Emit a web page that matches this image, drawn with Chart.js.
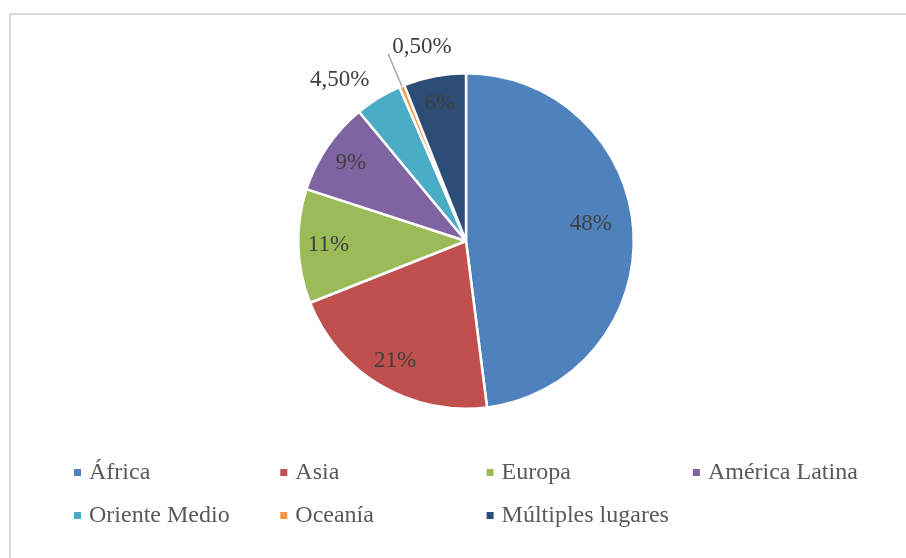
<!DOCTYPE html>
<html>
<head>
<meta charset="utf-8">
<script src="https://cdn.jsdelivr.net/npm/chart.js@4"></script>
<style>
  html, body { margin: 0; padding: 0; background: #fff; }
  #wrap { position: relative; width: 906px; height: 558px; }
</style>
</head>
<body>
<div id="wrap"><canvas id="regionPie" width="906" height="558"></canvas></div>
<script>
const regions = ['África', 'Asia', 'Europa', 'América Latina', 'Oriente Medio', 'Oceanía', 'Múltiples lugares'];
const shares = [48, 21, 11, 9, 4.5, 0.5, 6];
const shareLabels = ['48%', '21%', '11%', '9%', '4,50%', '0,50%', '6%'];
const colors = ['#4F81BD', '#C0504D', '#9BBB59', '#8064A2', '#4BACC6', '#F79646', '#2C4D75'];

// gray frame of the original chart box
const framePlugin = {
  id: 'frame',
  beforeDraw(chart) {
    const ctx = chart.ctx;
    ctx.save();
    ctx.fillStyle = '#d9d9d9';
    ctx.fillRect(9, 13, chart.width, 2);
    ctx.fillRect(9, 13, 2, chart.height);
    ctx.restore();
  }
};

// percentage labels, inside most slices, outside for the small ones
const sliceLabelPlugin = {
  id: 'sliceLabels',
  afterDatasetsDraw(chart, args, opts) {
    const ctx = chart.ctx;
    const arcs = chart.getDatasetMeta(0).data;
    ctx.save();
    ctx.font = opts.font;
    ctx.textAlign = 'center';
    ctx.textBaseline = 'middle';
    arcs.forEach((arc, i) => {
      const p = arc.getProps(['x', 'y', 'startAngle', 'endAngle', 'outerRadius'], true);
      const mid = (p.startAngle + p.endAngle) / 2;
      const rf = opts.radius[i];
      const a = mid + (opts.angleShift[i] || 0) * Math.PI / 180;
      const lx = p.x + Math.cos(a) * p.outerRadius * rf;
      const ly = p.y + Math.sin(a) * p.outerRadius * rf;
      if (opts.leader[i]) {
        const w = ctx.measureText(shareLabels[i]).width;
        ctx.strokeStyle = '#a6a6a6';
        ctx.lineWidth = 1.5;
        ctx.beginPath();
        ctx.moveTo(p.x + Math.cos(mid) * p.outerRadius, p.y + Math.sin(mid) * p.outerRadius);
        ctx.lineTo(lx - w / 2 - 4, ly + 7);
        ctx.stroke();
      }
      ctx.fillStyle = '#404040';
      ctx.fillText(shareLabels[i], lx, ly);
    });
    ctx.restore();
  }
};

// legend laid out on a fixed grid, four columns
const gridLegendPlugin = {
  id: 'gridLegend',
  afterDraw(chart, args, opts) {
    const ctx = chart.ctx;
    ctx.save();
    ctx.font = opts.font;
    ctx.textBaseline = 'middle';
    regions.forEach((name, i) => {
      const col = i % opts.cols;
      const row = Math.floor(i / opts.cols);
      const x = opts.left + col * opts.colWidth;
      const y = opts.top + row * opts.rowHeight;
      ctx.fillStyle = colors[i];
      ctx.fillRect(x, y - 4, 7, 7);
      ctx.fillStyle = '#595959';
      ctx.fillText(name, x + 15, y);
    });
    ctx.restore();
  }
};

const ctx = document.getElementById('regionPie').getContext('2d');

new Chart(ctx, {
  type: 'pie',
  data: {
    labels: regions,
    datasets: [{
      data: shares,
      backgroundColor: colors,
      borderColor: '#ffffff',
      borderWidth: 2.5
    }]
  },
  options: {
    responsive: false,
    animation: false,
    layout: {
      padding: { top: 72, bottom: 148, left: 297, right: 271 }
    },
    plugins: {
      legend: { display: false },
      tooltip: { enabled: false },
      sliceLabels: {
        font: '23px "Liberation Serif", "Times New Roman", serif',
        radius: [0.75, 0.83, 0.82, 0.83, 1.22, 1.186, 0.83],
        angleShift: [-4, 0, 0, 0, -6.6, 9.7, 0],
        leader: [false, false, false, false, false, true, false]
      },
      gridLegend: {
        font: '24px "Liberation Serif", "Times New Roman", serif',
        cols: 4,
        left: 74,
        colWidth: 206.3,
        top: 473,
        rowHeight: 43
      }
    }
  },
  plugins: [framePlugin, sliceLabelPlugin, gridLegendPlugin]
});
</script>
</body>
</html>
